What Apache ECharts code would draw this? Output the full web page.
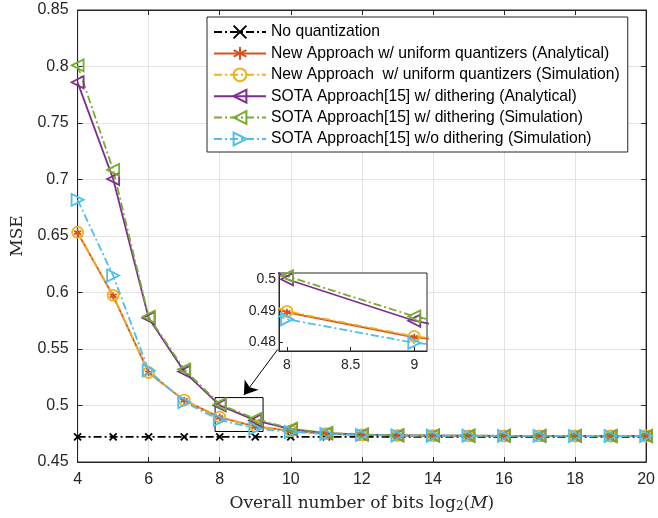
<!DOCTYPE html>
<html lang="en">
  <head>
    <meta charset="utf-8" />
    <title>MSE vs bits</title>
    <script src="https://cdn.jsdelivr.net/npm/echarts@6/dist/echarts.min.js"></script>
    <style>
      html, body { margin: 0; padding: 0; background: #fff; }
      #chart { width: 658px; height: 518px; }
    </style>
  </head>
  <body>
    <div id="chart"></div>
    <script type="text/javascript">
      // overall number of bits log2(M)
      var bits = [4, 5, 6, 7, 8, 9, 10, 11, 12, 13, 14, 15, 16, 17, 18, 19, 20];

      var noQuant = [0.4723, 0.4723, 0.4723, 0.4723, 0.4723, 0.4723, 0.4723, 0.4723, 0.4723,
        0.4723, 0.4723, 0.4723, 0.4723, 0.4723, 0.4723, 0.4723, 0.4723];
      var newAnalytical = [0.653, 0.597, 0.529, 0.5045, 0.4895, 0.4815, 0.4775, 0.475, 0.474,
        0.4735, 0.4733, 0.4732, 0.4731, 0.4731, 0.473, 0.473, 0.473];
      var newSimulation = [0.6533, 0.5975, 0.5292, 0.5048, 0.4898, 0.4818, 0.4776, 0.4751, 0.474,
        0.4735, 0.4733, 0.4732, 0.4731, 0.4731, 0.473, 0.473, 0.473];
      var sotaDithAnalytical = [0.786, 0.7005, 0.5775, 0.53, 0.5001, 0.4868, 0.479, 0.4755, 0.4742,
        0.4736, 0.4734, 0.4733, 0.4732, 0.4731, 0.4731, 0.473, 0.473];
      var sotaDithSimulation = [0.801, 0.7085, 0.5785, 0.532, 0.5011, 0.4882, 0.4795, 0.4758, 0.4743,
        0.4737, 0.4734, 0.4733, 0.4732, 0.4731, 0.4731, 0.473, 0.473];
      var sotaNoDith = [0.682, 0.615, 0.531, 0.503, 0.4873, 0.4797, 0.4765, 0.4748, 0.4739,
        0.4735, 0.4733, 0.4732, 0.4731, 0.4731, 0.473, 0.473, 0.473];

      var names = [
        "No quantization",
        "New Approach w/ uniform quantizers (Analytical)",
        "New Approach  w/ uniform quantizers (Simulation)",
        "SOTA Approach[15] w/ dithering (Analytical)",
        "SOTA Approach[15] w/ dithering (Simulation)",
        "SOTA Approach[15] w/o dithering (Simulation)",
      ];
      var yTicks = [0.48, 0.49, 0.5];
      var xTicksInset = [8, 8.5, 9];

      var sans = "Liberation Sans";
      var serif = "DejaVu Serif";
      var ink = "#262626";

      var X_SYM = "path://M0,0L10,10M0,10L10,0";
      var STAR_SYM = "path://M5,0L5,10M0.7,2.5L9.3,7.5M0.7,7.5L9.3,2.5";
      var LEFT_TRI = "path://M0,5L10,0L10,10Z";
      var RIGHT_TRI = "path://M10,5L0,0L0,10Z";
      var dashDot = [8, 3, 2, 3];

      var styles = [
        { data: noQuant, color: "#000000", type: dashDot, symbol: X_SYM, size: 7, width: 1.8 },
        { data: newAnalytical, color: "#D95319", type: "solid", symbol: STAR_SYM, size: 7, width: 1.8 },
        { data: newSimulation, color: "#EDB120", type: dashDot, symbol: "circle", size: 11, width: 1.8 },
        { data: sotaDithAnalytical, color: "#7E2F8E", type: "solid", symbol: LEFT_TRI, size: 12, width: 1.8 },
        { data: sotaDithSimulation, color: "#77AC30", type: dashDot, symbol: LEFT_TRI, size: 12, width: 1.8 },
        { data: sotaNoDith, color: "#4DBEEE", type: dashDot, symbol: RIGHT_TRI, size: 12, width: 1.8 },
      ];

      function pairs(vals) {
        var out = [];
        for (var i = 0; i < bits.length; i++) out.push([bits[i], vals[i]]);
        return out;
      }

      function makeSeries(s, idx, axisIdx, z) {
        return {
          name: names[idx],
          type: "line",
          xAxisIndex: axisIdx,
          yAxisIndex: axisIdx,
          zlevel: z,
          data: pairs(s.data),
          symbol: s.symbol,
          symbolSize: s.size,
          showAllSymbol: true,
          animation: false,
          lineStyle: { color: s.color, width: s.width, type: s.type },
          itemStyle: { color: "rgba(0,0,0,0)", borderColor: s.color, borderWidth: 1.8 },
          emphasis: { disabled: true },
        };
      }

      var series = [];
      styles.forEach(function (s, i) { series.push(makeSeries(s, i, 0, 0)); });
      styles.forEach(function (s, i) { series.push(makeSeries(s, i, 2, 1)); });

      // zoom box and arrow pointing at it
      series[0].markArea = {
        silent: true,
        itemStyle: { color: "rgba(0,0,0,0)", borderColor: "#000", borderWidth: 1 },
        data: [[{ coord: [7.87, 0.477] }, { coord: [9.22, 0.507] }]],
      };
      series[0].markLine = {
        silent: true,
        symbol: ["none", "arrow"],
        symbolSize: 13,
        label: { show: false },
        lineStyle: { color: "#000", width: 1, type: "solid" },
        data: [[{ coord: [9.63, 0.5496] }, { coord: [8.68, 0.5093] }]],
      };

      var chart = echarts.init(document.getElementById("chart"));
      chart.setOption({
        backgroundColor: "#fff",
        animation: false,
        legend: {
          data: names,
          orient: "vertical",
          left: 207,
          top: 17,
          padding: [7, 8, 5, 6],
          itemWidth: 52,
          itemHeight: 16,
          itemGap: 5.4,
          backgroundColor: "#fff",
          borderColor: ink,
          borderWidth: 1,
          textStyle: { fontFamily: sans, fontSize: 15.7, lineHeight: 16, color: "#000" },
          selectedMode: false,
        },
        grid: [
          { left: 77.6, right: 8, top: 10, bottom: 54, show: true, borderColor: ink, borderWidth: 1 },
          { left: 279, top: 273, width: 148, height: 78, show: true, backgroundColor: "#fff",
            borderColor: ink, borderWidth: 1, zlevel: 1 },
        ],
        xAxis: [
          {
            type: "value", gridIndex: 0, min: 4, max: 20, interval: 2,
            axisLine: { lineStyle: { color: ink } },
            axisTick: { inside: true, length: 5, lineStyle: { color: ink } },
            axisLabel: { fontFamily: sans, fontSize: 16, color: ink, margin: 10 },
            splitLine: { show: true, lineStyle: { color: "#e3e3e3", width: 1 } },
            name: "{a|Overall number of bits log}{s|2}{a|(}{i|M}{a|)}",
            nameLocation: "middle",
            nameGap: 32,
            nameTextStyle: {
              rich: {
                a: { fontFamily: serif, fontSize: 17, color: ink },
                s: { fontFamily: serif, fontSize: 12, color: ink, verticalAlign: "bottom", padding: [7, 0, 0, 0] },
                i: { fontFamily: serif, fontSize: 17, color: ink, fontStyle: "italic" },
              },
            },
          },
          {
            type: "value", gridIndex: 0, position: "top", min: 4, max: 20, interval: 2,
            axisLine: { lineStyle: { color: ink } },
            axisTick: { inside: true, length: 5, lineStyle: { color: ink } },
            axisLabel: { show: false },
            splitLine: { show: false },
          },
          {
            type: "value", gridIndex: 1, min: 7.937, max: 9.1, zlevel: 1,
            axisLine: { lineStyle: { color: ink } },
            axisTick: { inside: true, length: 4, customValues: xTicksInset, lineStyle: { color: ink } },
            axisLabel: { customValues: xTicksInset, fontFamily: sans, fontSize: 14, color: ink, margin: 7 },
            splitLine: { show: false },
          },
        ],
        yAxis: [
          {
            type: "value", gridIndex: 0, min: 0.45, max: 0.85, interval: 0.05,
            axisLine: { show: true, lineStyle: { color: ink } },
            axisTick: { show: true, inside: true, length: 5, lineStyle: { color: ink } },
            axisLabel: { fontFamily: sans, fontSize: 16, color: ink, margin: 9 },
            splitLine: { show: true, lineStyle: { color: "#e3e3e3", width: 1 } },
            name: "MSE",
            nameLocation: "middle",
            nameGap: 48,
            nameTextStyle: { fontFamily: serif, fontSize: 17, color: ink },
          },
          {
            type: "value", gridIndex: 0, position: "right", min: 0.45, max: 0.85, interval: 0.05,
            axisLine: { show: true, lineStyle: { color: ink } },
            axisTick: { show: true, inside: true, length: 5, lineStyle: { color: ink } },
            axisLabel: { show: false },
            splitLine: { show: false },
          },
          {
            type: "value", gridIndex: 1, min: 0.4771, max: 0.5021, zlevel: 1,
            axisLine: { show: true, lineStyle: { color: ink } },
            axisTick: { show: true, inside: true, length: 4, customValues: yTicks, lineStyle: { color: ink } },
            axisLabel: { customValues: yTicks, fontFamily: sans, fontSize: 14, color: ink, margin: 3 },
            splitLine: { show: false },
          },
        ],
        series: series,
      });
    </script>
  </body>
</html>
